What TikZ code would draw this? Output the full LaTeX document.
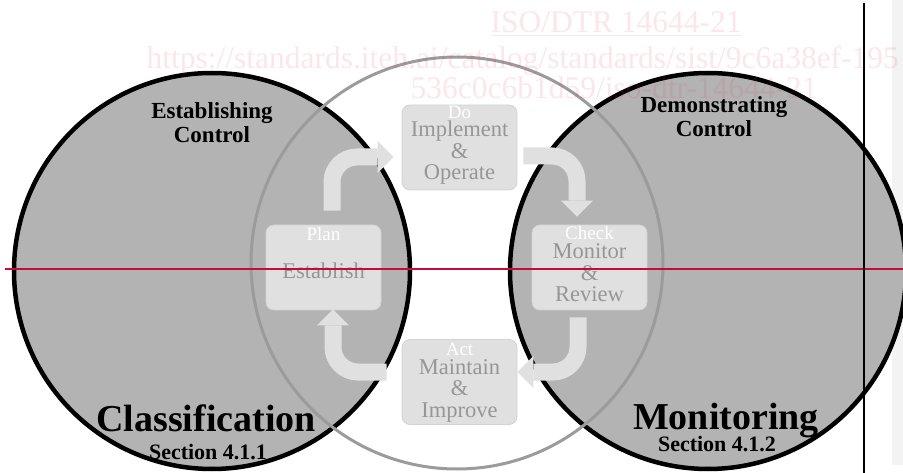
\documentclass[tikz,border=0pt]{standalone}
\usepackage{fontspec}
\setmainfont{Liberation Serif}
\usetikzlibrary{arrows.meta,calc}

\definecolor{venngrey}{RGB}{179,179,179}
\definecolor{stepgrey}{RGB}{224,224,224}
\definecolor{steptext}{RGB}{150,150,150}
\definecolor{cyclegrey}{RGB}{155,155,155}
\definecolor{markred}{RGB}{196,12,58}
\definecolor{stamppink}{RGB}{220,60,100}
\definecolor{stripgrey}{RGB}{243,243,243}

\begin{document}
\begin{tikzpicture}[x=1pt, y=-1pt,
    venn/.style={circle, draw=black, line width=4.5pt, fill=venngrey,
                 minimum size=396pt, inner sep=0pt},
    stepbox/.style={rectangle, rounded corners=8pt, fill=stepgrey,
                    draw=stepgrey!94!black, line width=0.8pt,
                    minimum width=115pt, minimum height=85pt},
    steptitle/.style={anchor=base, text=white,
                      font=\fontsize{19}{19}\selectfont},
    stepbody/.style={anchor=base, align=center, text=steptext,
                     font=\fontsize{22.5}{21.5}\selectfont},
    turn/.style={draw=stepgrey, line width=17pt, rounded corners=25pt,
                 -{Triangle[width=32pt,length=16pt,line width=0pt]}},
    heading/.style={anchor=base, align=center,
                    font=\fontsize{23}{24.5}\selectfont\bfseries},
    bigname/.style={anchor=base, font=\fontsize{38}{38}\selectfont\bfseries},
    section/.style={anchor=base, font=\fontsize{22}{22}\selectfont\bfseries},
    stamp/.style={anchor=base west, text=stamppink, text opacity=0.13,
                  font=\fontsize{31.5}{31.5}\selectfont}]
  \useasboundingbox (0,0) rectangle (903,473);

  % page strip at the right
  \fill[stripgrey] (892,0) rectangle (903,465);

  % the three circles
  \node[venn] (classcircle) at (212,271) {};
  \node[venn] (monicircle) at (708,271) {};
  \node[circle, draw=cyclegrey, line width=3pt, minimum size=412pt,
        inner sep=0pt] (cyclecircle) at (457,263) {};

  % PDCA boxes
  \node[stepbox] (plan)  at (323.5,267.5) {};
  \node[stepbox] (do)    at (459.5,147.5) {};
  \node[stepbox] (check) at (589.5,267.5) {};
  \node[stepbox] (act)   at (459.5,382)   {};

  % bent arrows
  \draw[turn] ($(plan.north)+(8.5,-14)$) |- ($(do.west)+(-8,9.5)$);
  \draw[turn] ($(do.east)+(6,8.5)$) -| ($(check.north)+(-12.5,-8)$);
  \draw[turn] ($(check.south)+(-11.5,7)$) |- ($(act.east)+(0,-10)$);
  \draw[turn] ($(act.west)+(-15,-10)$) -| ($(plan.south)+(9.5,-1)$);

  % base of a body is its last line
  \node[steptitle] (plantitle)  at ($(plan.north)+(0,16)$)  {Plan};
  \node[stepbody]  (planbody)   at ($(plan.north)+(0,54)$)  {Establish};
  \node[steptitle] (dotitle)    at ($(do.north)+(0,14)$)    {Do};
  \node[stepbody]  (dobody)     at ($(do.north)+(0,75)$)    {Implement\\\&\\Operate};
  \node[steptitle] (checktitle) at ($(check.north)+(0,15)$) {Check};
  \node[stepbody]  (checkbody)  at ($(check.north)+(0,77)$) {Monitor\\\&\\Review};
  \node[steptitle] (acttitle)   at ($(act.north)+(0,16)$)   {Act};
  \node[stepbody]  (actbody)    at ($(act.north)+(0,78)$)   {Maintain\\\&\\Improve};

  % circle labels
  \node[heading] (establishing)  at (212,143) {Establishing\\Control};
  \node[heading] (demonstrating) at (714,137) {Demonstrating\\Control};
  \node[bigname] (classification) at (206,431) {Classification};
  \node[section] (classsection)   at (208,459) {Section 4.1.1};
  \node[bigname] (monitoring)     at (726,429) {Monitoring};
  \node[section] (monisection)    at (717,451) {Section 4.1.2};

  % watermark
  \node[stamp] (stampiso) at (487,33) {\underline{ISO/DTR 14644-21}};
  \node[stamp] (stampurl) at (143,69) {https://standards.iteh.ai/catalog/standards/sist/9c6a38ef-195};
  \node[stamp] (stampid)  at (407,99) {536c0c6b1d59/iso-dtr-14644-21};

  % marks on the page
  \draw[markred, line width=2pt] (5,269) -- (903,269);
  \draw[black, line width=1.3pt] (864,3) -- (864,473);
\end{tikzpicture}
\end{document}
